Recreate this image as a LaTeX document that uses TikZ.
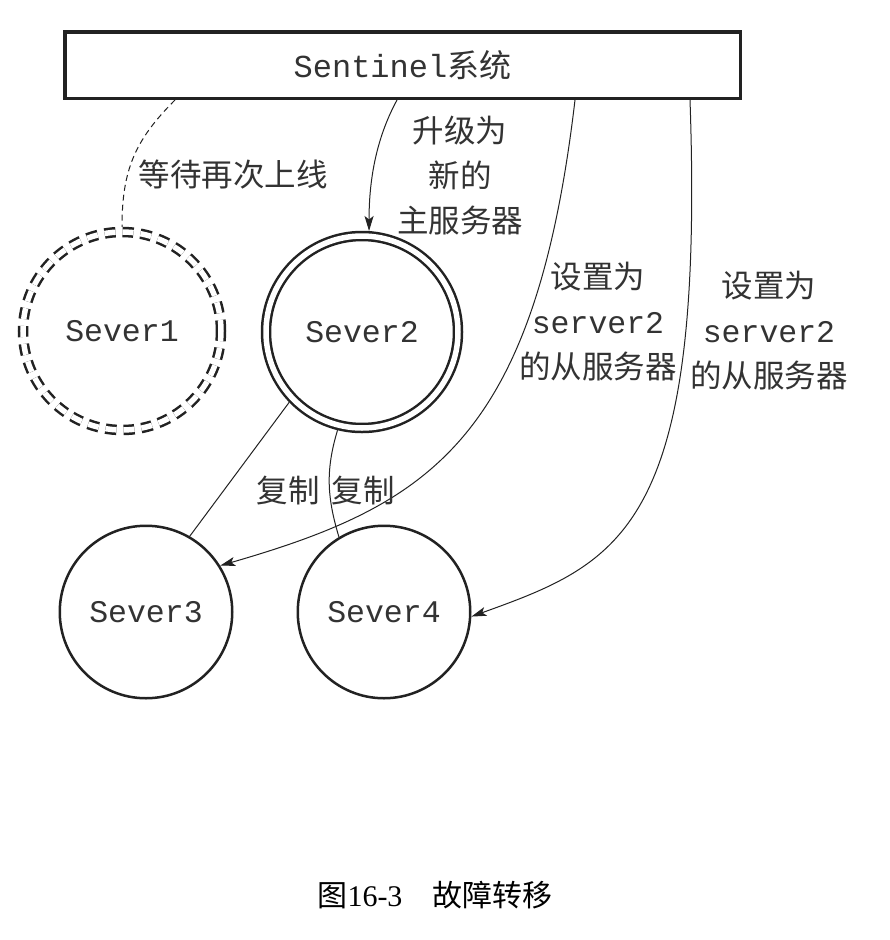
\documentclass[tikz,border=0pt]{standalone}
\usepackage{fontspec}
\newfontfamily\cjk{Noto Sans CJK SC}
\newfontfamily\mono{Liberation Mono}
\newfontfamily\capnum{Liberation Serif}
\usetikzlibrary{arrows.meta}
\definecolor{ink}{HTML}{222222}
\definecolor{txt}{HTML}{333333}
\begin{document}
\begin{tikzpicture}[x=1pt,y=-1pt,
  box/.style={draw=ink, line width=3.5pt, rectangle, minimum width=675.5pt, minimum height=66.5pt, inner sep=0pt, font=\mono\fontsize{32}{36}\selectfont, text=txt},
  srv/.style={draw=ink, circle, line width=2.5pt, inner sep=0pt, minimum size=172.5pt, font=\mono\fontsize{31.5}{36}\selectfont, text=txt},
  dbl/.style={double=white, double distance=5.5pt, outer sep=5.25pt},
  lbl/.style={font=\cjk\fontsize{31.5}{45}\selectfont, text=txt, align=center, inner sep=0pt},
  conn/.style={draw=ink, line width=1pt},
  arr/.style={-{Stealth[length=15pt,width=9pt,inset=3.5pt]}}
]
\fill[white] (0,0) rectangle (890,940);
\useasboundingbox (0,0) rectangle (890,940);

\node[box] (sen) at (402.5,65) {Sentinel{\cjk 系统}};

\node[srv, dbl, dash pattern=on 11pt off 7pt, minimum size=198pt] (s1) at (122,331) {Sever1};
\node[srv, dbl, minimum size=192pt] (s2) at (362,332) {Sever2};
\node[srv] (s3) at (146,612) {Sever3};
\node[srv] (s4) at (384,612) {Sever4};

\draw[conn, dash pattern=on 6pt off 4pt] ([xshift=112pt]sen.south west) .. controls (135,140) and (122,170) .. (s1.north);
\draw[conn, arr] ([xshift=334pt]sen.south west) .. controls (378,135) and (369,175) .. (s2.86);
\draw[conn, arr] ([xshift=512pt]sen.south west) .. controls (535,440) and (430,505) .. (s3.32);
\draw[conn, arr] ([xshift=627pt]sen.south west) .. controls (705,530) and (620,563) .. (s4.-3);
\draw[conn] (s2.224) -- (s3.60);
\draw[conn] (s2.256) .. controls +(-12,40) and +(-12,-40) .. (s4.121);

\node[lbl] (l1) at (233,175) {等待再次上线};
\node[lbl] (l2) at (460,176) {升级为\\新的\\主服务器};
\node[lbl] (l3) at (598,322) {设置为\\{\mono server2}\\的从服务器};
\node[lbl] (l4) at (769,331) {设置为\\{\mono server2}\\的从服务器};
\node[lbl] (l5) at (288,491) {复制};
\node[lbl] (l6) at (363,491) {复制};

\node[font=\cjk\fontsize{30}{34}\selectfont, text=black, inner sep=0pt] (cap) at (435,895) {图{\capnum 16-3}\hspace{30pt}故障转移};
\end{tikzpicture}
\end{document}
